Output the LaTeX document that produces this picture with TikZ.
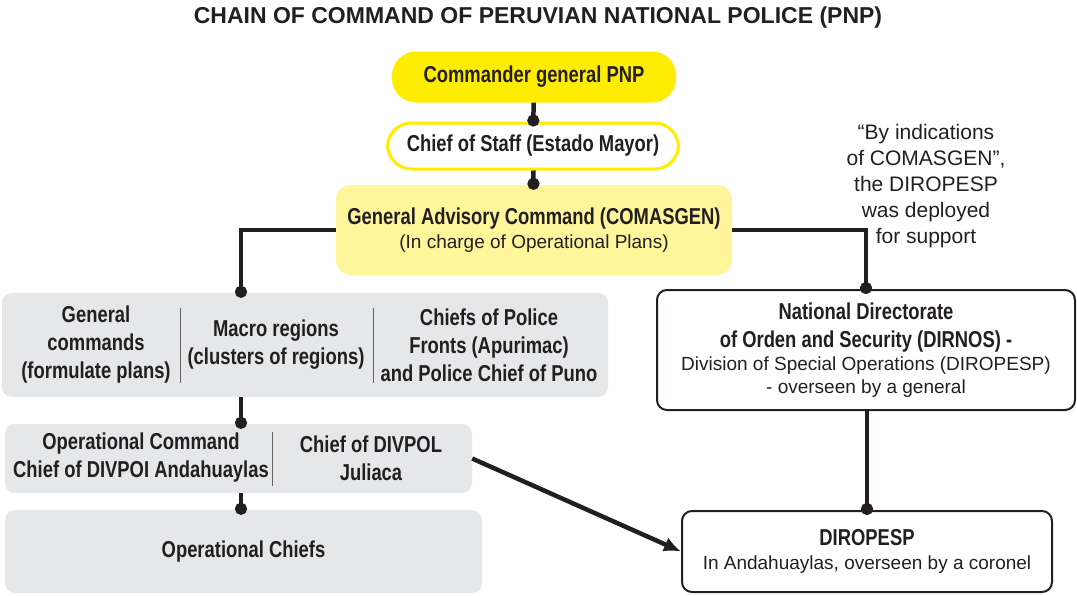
\documentclass[tikz,border=0pt]{standalone}
\usepackage{fontspec}
\setmainfont{Liberation Sans}
\newfontfamily\narrowbf[FakeStretch=0.8]{Liberation Sans Bold}
\newfontfamily\titlebf{Liberation Sans Bold}
\usepackage{xcolor}
\usetikzlibrary{positioning}
\usetikzlibrary{arrows.meta}
\definecolor{pnpyellow}{HTML}{FFED00}
\definecolor{paleyellow}{HTML}{FFF59B}
\definecolor{panelgray}{HTML}{E6E7E8}
\definecolor{ink}{HTML}{231F20}
\newcommand{\hdtxt}{\narrowbf\fontsize{23}{28}\selectfont}
\newcommand{\rgtxt}{\normalfont\fontsize{19}{23}\selectfont}

\begin{document}
\begin{tikzpicture}[x=1pt,y=-1pt]
    \tikzset{box/.style={align=center, text=ink, inner sep=0pt, font=\hdtxt}}
    \tikzset{pill/.style={box, rounded corners=24pt, minimum height=50pt}}
    \tikzset{panel/.style={box, fill=panelgray, rounded corners=10pt}}
    \tikzset{frame/.style={box, draw=ink, line width=2pt, fill=white, rounded corners=10pt}}
    \tikzset{link/.style = {draw=ink, line width=4.5pt, -{Circle[length=12pt]}, shorten >=-5pt}}
    \tikzset{push/.style = {draw=ink, line width=4.5pt, -{Latex[length=17pt,width=15pt]}}}
    \tikzset{divider/.style = {draw=ink!70, line width=0.8pt}}
    \useasboundingbox (0,0) rectangle (1077,595);

    \node[box, font=\titlebf\fontsize{23}{28}\selectfont] (title) at (538,18)
        {CHAIN OF COMMAND OF PERUVIAN NATIONAL POLICE (PNP)};

    % upper chain
    \node[pill, fill=pnpyellow, minimum width=284pt, minimum height=51pt] (commander) at (534,77)
        {Commander general PNP};
    \node[pill, draw=pnpyellow, line width=3pt, fill=white, minimum width=291pt, minimum height=46pt] (chief) at (533,146)
        {Chief of Staff (Estado Mayor)};
    \node[box, fill=paleyellow, rounded corners=15pt, minimum width=396pt, minimum height=90pt] (comasgen) at (534,230)
        {General Advisory Command (COMASGEN)\\[-4pt]{\rgtxt (In charge of Operational Plans)}};

    \node[box, font=\fontsize{21}{26}\selectfont] (note) at (926,186)
        {“By indications\\of COMASGEN”,\\the DIROPESP\\was deployed\\for support};

    % left branch
    \node[panel, minimum width=606pt, minimum height=104pt] (regions) at (305,345) {};
    \node[box] (general) at (96,345) {General\\commands\\(formulate plans)};
    \node[box] (macro) at (276,345) {Macro regions\\(clusters of regions)};
    \node[box] (fronts) at (489,345) {Chiefs of Police\\Fronts (Apurimac)\\and Police Chief of Puno};
    \draw[divider] (180,308) -- (180,383);
    \draw[divider] (373,308) -- (373,383);

    \node[panel, minimum width=467pt, minimum height=69pt] (opscommand) at (238.5,458.5) {};
    \node[box] (andahuaylas) at (141,458) {Operational Command\\Chief of DIVPOI Andahuaylas};
    \node[box] (juliaca) at (371,458) {Chief of DIVPOL\\Juliaca};
    \draw[divider] (272,432) -- (272,486);

    \node[panel, minimum width=477pt, minimum height=83pt] (opchiefs) at (243.5,551.5) {Operational Chiefs};

    % right branch
    \node[frame, minimum width=418pt, minimum height=120pt] (dirnos) at (866,350)
        {National Directorate\\of Orden and Security (DIRNOS) -\\[-5pt]
         {\rgtxt Division of Special Operations (DIROPESP)}\\[-5pt]{\rgtxt - overseen by a general}};
    \node[frame, minimum width=370pt, minimum height=81pt] (diropesp) at (867,551.5)
        {DIROPESP\\[-4pt]{\rgtxt In Andahuaylas, overseen by a coronel}};

    \coordinate (spine) at (241,0);
    \draw[link] (commander) -- (chief);
    \draw[link] (chief) -- (comasgen);
    \draw[link] (comasgen.west) -| (spine |- regions.north);
    \draw[link] (comasgen.east) -| (dirnos.north);
    \draw[link] (spine |- regions.south) -- (spine |- opscommand.north);
    \draw[link] (spine |- opscommand.south) -- (spine |- opchiefs.north);
    \draw[link] (dirnos.south -| diropesp.north) -- (diropesp.north);
    \draw[push] (opscommand.east) -- (diropesp.west);
\end{tikzpicture}
\end{document}
